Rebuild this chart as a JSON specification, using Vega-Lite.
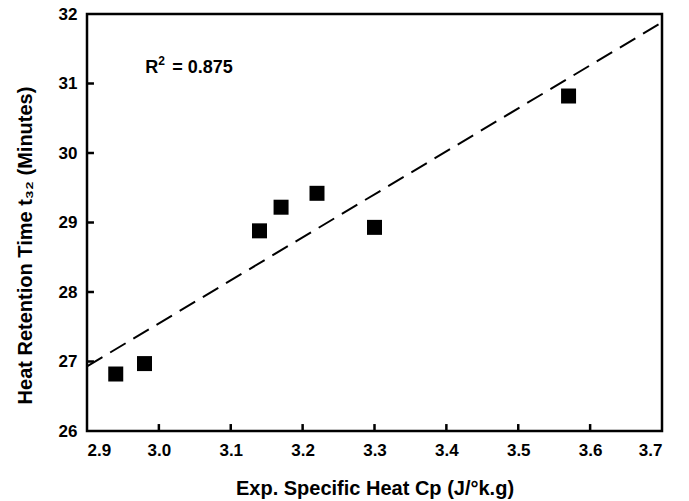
{
  "$schema": "https://vega.github.io/schema/vega-lite/v6.json",
  "width": 575,
  "height": 417,
  "autosize": "none",
  "padding": {"left": 87, "top": 14, "right": 27, "bottom": 70},
  "background": "white",
  "config": {
    "font": "Liberation Sans",
    "view": {"stroke": "black", "strokeWidth": 2.5}
  },
  "datasets": {
    "points": [
      {"cp": 2.94, "t32": 26.82},
      {"cp": 2.98, "t32": 26.97},
      {"cp": 3.14, "t32": 28.88},
      {"cp": 3.17, "t32": 29.22},
      {"cp": 3.22, "t32": 29.42},
      {"cp": 3.30, "t32": 28.93},
      {"cp": 3.57, "t32": 30.82}
    ],
    "fit": [
      {"cp": 2.9, "t32": 26.93},
      {"cp": 3.7, "t32": 31.88}
    ],
    "xticks": [
      {"cp": 3.0}, {"cp": 3.1}, {"cp": 3.2}, {"cp": 3.3}, {"cp": 3.4}, {"cp": 3.5}, {"cp": 3.6}
    ],
    "yticks": [
      {"t32": 27}, {"t32": 28}, {"t32": 29}, {"t32": 30}, {"t32": 31}
    ]
  },
  "layer": [
    {
      "data": {"name": "points"},
      "mark": {"type": "square", "color": "black", "opacity": 1, "size": 225, "filled": true},
      "encoding": {
        "x": {"field": "cp", "type": "quantitative", "scale": {"domain": [2.9, 3.7], "nice": false, "zero": false},
          "axis": {"tickCount": 8, "format": ".1f",
            "domain": false, "grid": false, "ticks": false, "zindex": 1,
            "labelFont": "Liberation Sans", "labelFontWeight": "bold", "labelFontSize": 17, "labelColor": "black", "labelPadding": 11,
            "title": "Exp. Specific Heat Cp (J/°k.g)", "titleFont": "Liberation Sans", "titleFontWeight": "bold", "titleFontSize": 20, "titleColor": "black", "titlePadding": 20}},
        "y": {"field": "t32", "type": "quantitative", "scale": {"domain": [26, 32], "nice": false, "zero": false},
          "axis": {"tickCount": 6, "format": "d",
            "domain": false, "grid": false, "ticks": false, "zindex": 1,
            "labelFont": "Liberation Sans", "labelFontWeight": "bold", "labelFontSize": 17, "labelColor": "black", "labelPadding": 10,
            "title": "Heat Retention Time t₃₂ (Minutes)", "titleFont": "Liberation Sans", "titleFontWeight": "bold", "titleFontSize": 20, "titleColor": "black", "titlePadding": 23, "titleY": 231}}
      }
    },
    {
      "data": {"name": "xticks"},
      "mark": {"type": "rule", "color": "black", "strokeWidth": 2.5},
      "encoding": {
        "x": {"field": "cp", "type": "quantitative"},
        "y": {"datum": 26, "type": "quantitative"},
        "y2": {"datum": 26.1}
      }
    },
    {
      "data": {"name": "yticks"},
      "mark": {"type": "rule", "color": "black", "strokeWidth": 2.5},
      "encoding": {
        "y": {"field": "t32", "type": "quantitative"},
        "x": {"datum": 2.9, "type": "quantitative"},
        "x2": {"datum": 2.9097}
      }
    },
    {
      "data": {"name": "fit"},
      "mark": {"type": "line", "color": "black", "strokeWidth": 2, "strokeDash": [18, 9]},
      "encoding": {
        "x": {"field": "cp", "type": "quantitative"},
        "y": {"field": "t32", "type": "quantitative"}
      }
    },
    {
      "data": {"values": [{"label": "R"}]},
      "mark": {"type": "text", "align": "left", "baseline": "middle", "font": "Liberation Sans", "fontWeight": "bold", "fontSize": 18, "color": "black"},
      "encoding": {
        "x": {"datum": 2.981, "type": "quantitative"},
        "y": {"datum": 31.22, "type": "quantitative"},
        "text": {"field": "label"}
      }
    },
    {
      "data": {"values": [{"label": "2"}]},
      "mark": {"type": "text", "align": "left", "baseline": "middle", "font": "Liberation Sans", "fontWeight": "bold", "fontSize": 12, "color": "black", "dx": 13, "dy": -7},
      "encoding": {
        "x": {"datum": 2.981, "type": "quantitative"},
        "y": {"datum": 31.22, "type": "quantitative"},
        "text": {"field": "label"}
      }
    },
    {
      "data": {"values": [{"label": "= 0.875"}]},
      "mark": {"type": "text", "align": "left", "baseline": "middle", "font": "Liberation Sans", "fontWeight": "bold", "fontSize": 18, "color": "black", "dx": 27},
      "encoding": {
        "x": {"datum": 2.981, "type": "quantitative"},
        "y": {"datum": 31.22, "type": "quantitative"},
        "text": {"field": "label"}
      }
    }
  ]
}
